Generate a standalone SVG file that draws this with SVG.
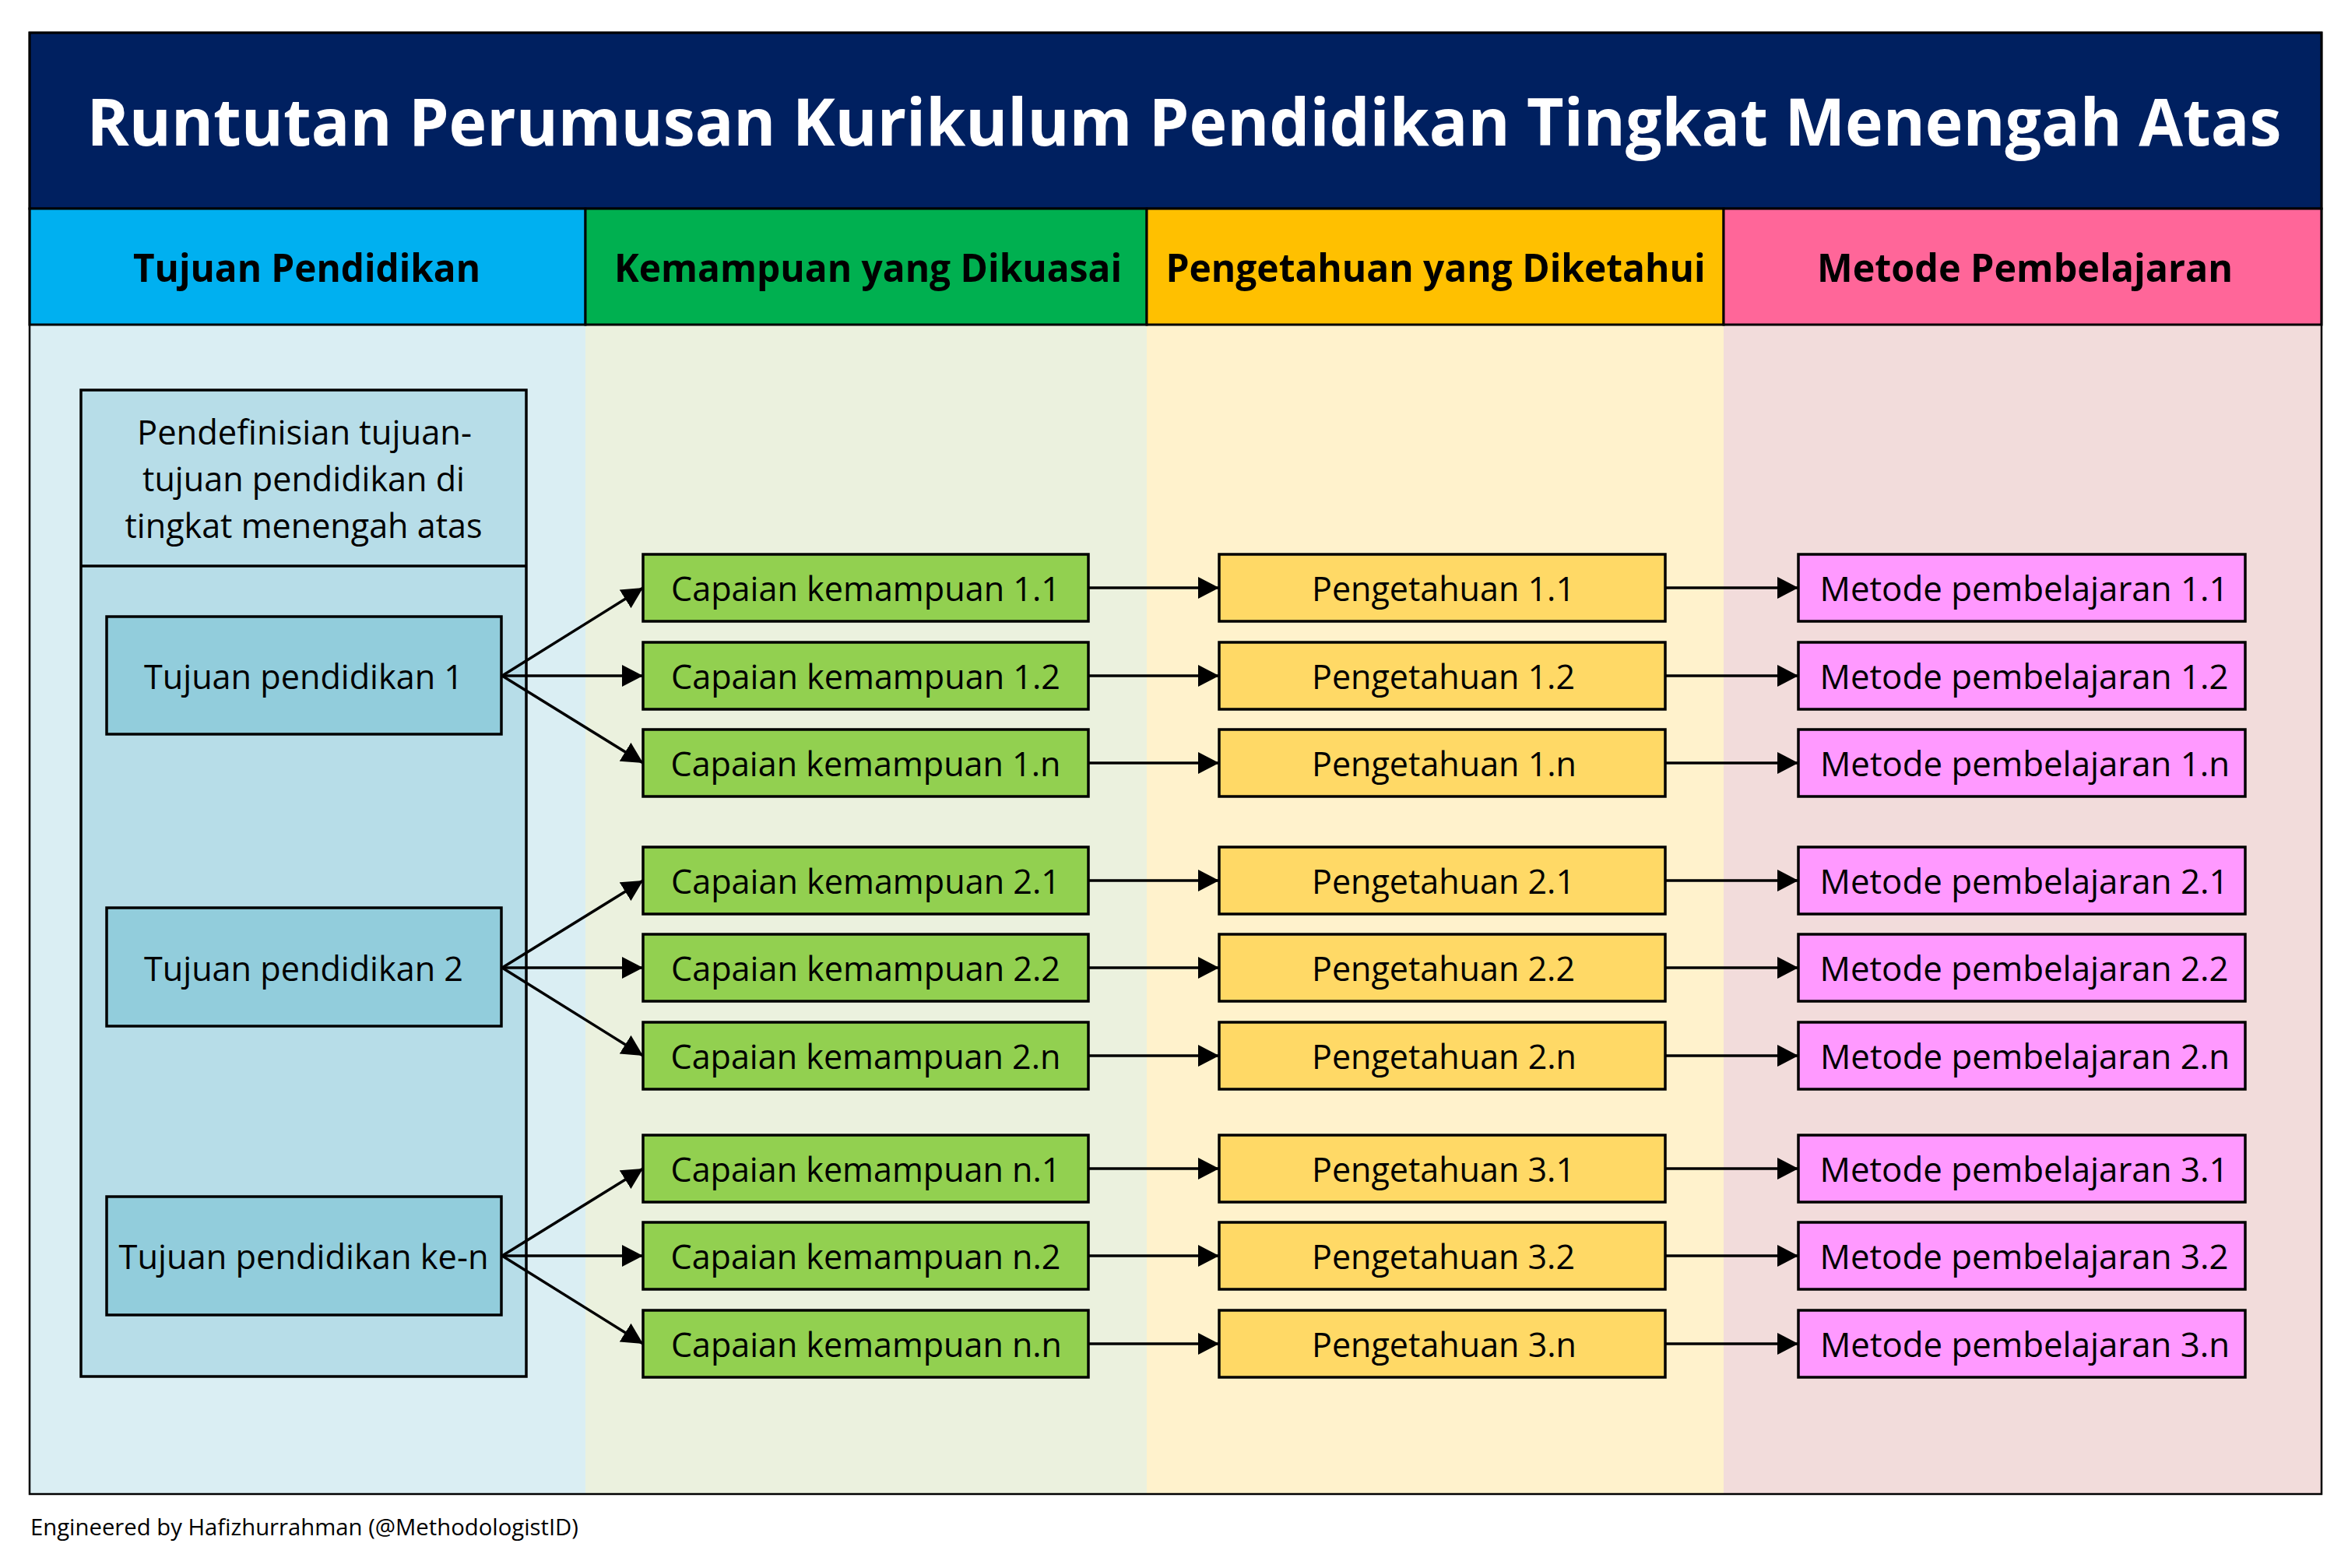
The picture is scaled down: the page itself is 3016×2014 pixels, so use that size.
<svg xmlns="http://www.w3.org/2000/svg" width="3016" height="2014" viewBox="0 0 3016 2014">
<style>
.t{font-family:"Open Sans","Noto Sans","Liberation Sans",sans-serif;fill:#000;}
.n{font-size:43px;text-anchor:middle;}
.h{font-size:50px;font-weight:bold;text-anchor:middle;}
.title{font-family:"Open Sans","Noto Sans","Liberation Sans",sans-serif;font-size:84px;font-weight:bold;fill:#fff;text-anchor:middle;}
.box{stroke:#000;stroke-width:3.5;}
.tj{fill:#92CDDC;}
.gr{fill:#92D050;}
.ye{fill:#FFD966;}
.pk{fill:#FF99FF;}
.conn line{stroke:#000;stroke-width:3.5;marker-end:url(#ah);}
</style>
<defs>
<marker id="ah" markerUnits="userSpaceOnUse" markerWidth="28" markerHeight="28" refX="27" refY="14" orient="auto" viewBox="0 0 28 28">
<path d="M0,0 L27,14 L0,28 Z" fill="#000"/>
</marker>
</defs>
<rect width="3016" height="2014" fill="#fff"/>
<g id="background">
<rect x="38" y="417" width="714" height="1502" fill="#DAEEF3"/>
<rect x="752" y="417" width="721" height="1502" fill="#EBF1DE"/>
<rect x="1473" y="417" width="741" height="1502" fill="#FFF2CC"/>
<rect x="2214" y="417" width="768" height="1502" fill="#F2DCDB"/>
</g>
<g id="title">
<rect x="38" y="42" width="2944" height="226" fill="#002060" stroke="#000" stroke-width="3"/>
<text class="title" x="1521" y="187" textLength="2819" lengthAdjust="spacingAndGlyphs">Runtutan Perumusan Kurikulum Pendidikan Tingkat Menengah Atas</text>
</g>
<g id="header-tujuan">
<rect x="38" y="268" width="714" height="149" fill="#00B0F0" stroke="#000" stroke-width="3"/>
<text class="t h" x="394" y="362" textLength="446" lengthAdjust="spacingAndGlyphs">Tujuan Pendidikan</text>
</g>
<g id="header-kemampuan">
<rect x="752" y="268" width="721" height="149" fill="#00B050" stroke="#000" stroke-width="3"/>
<text class="t h" x="1115" y="362" textLength="652" lengthAdjust="spacingAndGlyphs">Kemampuan yang Dikuasai</text>
</g>
<g id="header-pengetahuan">
<rect x="1473" y="268" width="741" height="149" fill="#FFC000" stroke="#000" stroke-width="3"/>
<text class="t h" x="1844" y="362" textLength="693" lengthAdjust="spacingAndGlyphs">Pengetahuan yang Diketahui</text>
</g>
<g id="header-metode">
<rect x="2214" y="268" width="768" height="149" fill="#FF6699" stroke="#000" stroke-width="3"/>
<text class="t h" x="2601" y="362" textLength="534" lengthAdjust="spacingAndGlyphs">Metode Pembelajaran</text>
</g>
<rect id="frame" x="38" y="42" width="2944" height="1877" fill="none" stroke="#000" stroke-width="2.5"/>
<g id="container">
<rect x="104" y="501" width="572" height="1267" fill="#B7DDE8" stroke="#000" stroke-width="3.5"/>
<line x1="104" y1="727" x2="676" y2="727" stroke="#000" stroke-width="3.5"/>
<text class="t n" x="391" y="571" textLength="430" lengthAdjust="spacingAndGlyphs">Pendefinisian tujuan-</text>
<text class="t n" x="390" y="631" textLength="414" lengthAdjust="spacingAndGlyphs">tujuan pendidikan di</text>
<text class="t n" x="390" y="691" textLength="459" lengthAdjust="spacingAndGlyphs">tingkat menengah atas</text>
</g>
<g id="tujuan-1"><rect class="box tj" x="137" y="792" width="507" height="151"/><text class="t n" x="390" y="885" textLength="410" lengthAdjust="spacingAndGlyphs">Tujuan pendidikan 1</text></g>
<g id="tujuan-2"><rect class="box tj" x="137" y="1166" width="507" height="152"/><text class="t n" x="390" y="1260" textLength="410" lengthAdjust="spacingAndGlyphs">Tujuan pendidikan 2</text></g>
<g id="tujuan-n"><rect class="box tj" x="137" y="1537" width="507" height="152"/><text class="t n" x="390" y="1630" textLength="475" lengthAdjust="spacingAndGlyphs">Tujuan pendidikan ke-n</text></g>

<g id="kemampuan-1-1"><rect class="box gr" x="826" y="712" width="572" height="86"/><text class="t n" x="1112" y="772" textLength="500" lengthAdjust="spacingAndGlyphs">Capaian kemampuan 1.1</text></g>
<g id="kemampuan-1-2"><rect class="box gr" x="826" y="825" width="572" height="86"/><text class="t n" x="1112" y="885" textLength="500" lengthAdjust="spacingAndGlyphs">Capaian kemampuan 1.2</text></g>
<g id="kemampuan-1-n"><rect class="box gr" x="826" y="937" width="572" height="86"/><text class="t n" x="1112" y="997" textLength="501" lengthAdjust="spacingAndGlyphs">Capaian kemampuan 1.n</text></g>
<g id="kemampuan-2-1"><rect class="box gr" x="826" y="1088" width="572" height="86"/><text class="t n" x="1112" y="1148" textLength="500" lengthAdjust="spacingAndGlyphs">Capaian kemampuan 2.1</text></g>
<g id="kemampuan-2-2"><rect class="box gr" x="826" y="1200" width="572" height="86"/><text class="t n" x="1112" y="1260" textLength="500" lengthAdjust="spacingAndGlyphs">Capaian kemampuan 2.2</text></g>
<g id="kemampuan-2-n"><rect class="box gr" x="826" y="1313" width="572" height="86"/><text class="t n" x="1112" y="1373" textLength="501" lengthAdjust="spacingAndGlyphs">Capaian kemampuan 2.n</text></g>
<g id="kemampuan-n-1"><rect class="box gr" x="826" y="1458" width="572" height="86"/><text class="t n" x="1112" y="1518" textLength="501" lengthAdjust="spacingAndGlyphs">Capaian kemampuan n.1</text></g>
<g id="kemampuan-n-2"><rect class="box gr" x="826" y="1570" width="572" height="86"/><text class="t n" x="1112" y="1630" textLength="501" lengthAdjust="spacingAndGlyphs">Capaian kemampuan n.2</text></g>
<g id="kemampuan-n-n"><rect class="box gr" x="826" y="1683" width="572" height="86"/><text class="t n" x="1113" y="1743" textLength="502" lengthAdjust="spacingAndGlyphs">Capaian kemampuan n.n</text></g>

<g id="pengetahuan-1-1"><rect class="box ye" x="1566" y="712" width="573" height="86"/><text class="t n" x="1854" y="772" textLength="338" lengthAdjust="spacingAndGlyphs">Pengetahuan 1.1</text></g>
<g id="pengetahuan-1-2"><rect class="box ye" x="1566" y="825" width="573" height="86"/><text class="t n" x="1854" y="885" textLength="338" lengthAdjust="spacingAndGlyphs">Pengetahuan 1.2</text></g>
<g id="pengetahuan-1-n"><rect class="box ye" x="1566" y="937" width="573" height="86"/><text class="t n" x="1855" y="997" textLength="340" lengthAdjust="spacingAndGlyphs">Pengetahuan 1.n</text></g>
<g id="pengetahuan-2-1"><rect class="box ye" x="1566" y="1088" width="573" height="86"/><text class="t n" x="1854" y="1148" textLength="338" lengthAdjust="spacingAndGlyphs">Pengetahuan 2.1</text></g>
<g id="pengetahuan-2-2"><rect class="box ye" x="1566" y="1200" width="573" height="86"/><text class="t n" x="1854" y="1260" textLength="338" lengthAdjust="spacingAndGlyphs">Pengetahuan 2.2</text></g>
<g id="pengetahuan-2-n"><rect class="box ye" x="1566" y="1313" width="573" height="86"/><text class="t n" x="1855" y="1373" textLength="340" lengthAdjust="spacingAndGlyphs">Pengetahuan 2.n</text></g>
<g id="pengetahuan-3-1"><rect class="box ye" x="1566" y="1458" width="573" height="86"/><text class="t n" x="1854" y="1518" textLength="338" lengthAdjust="spacingAndGlyphs">Pengetahuan 3.1</text></g>
<g id="pengetahuan-3-2"><rect class="box ye" x="1566" y="1570" width="573" height="86"/><text class="t n" x="1854" y="1630" textLength="338" lengthAdjust="spacingAndGlyphs">Pengetahuan 3.2</text></g>
<g id="pengetahuan-3-n"><rect class="box ye" x="1566" y="1683" width="573" height="86"/><text class="t n" x="1855" y="1743" textLength="340" lengthAdjust="spacingAndGlyphs">Pengetahuan 3.n</text></g>

<g id="metode-1-1"><rect class="box pk" x="2310" y="712" width="574" height="86"/><text class="t n" x="2600" y="772" textLength="525" lengthAdjust="spacingAndGlyphs">Metode pembelajaran 1.1</text></g>
<g id="metode-1-2"><rect class="box pk" x="2310" y="825" width="574" height="86"/><text class="t n" x="2600" y="885" textLength="525" lengthAdjust="spacingAndGlyphs">Metode pembelajaran 1.2</text></g>
<g id="metode-1-n"><rect class="box pk" x="2310" y="937" width="574" height="86"/><text class="t n" x="2601" y="997" textLength="526" lengthAdjust="spacingAndGlyphs">Metode pembelajaran 1.n</text></g>
<g id="metode-2-1"><rect class="box pk" x="2310" y="1088" width="574" height="86"/><text class="t n" x="2600" y="1148" textLength="525" lengthAdjust="spacingAndGlyphs">Metode pembelajaran 2.1</text></g>
<g id="metode-2-2"><rect class="box pk" x="2310" y="1200" width="574" height="86"/><text class="t n" x="2600" y="1260" textLength="525" lengthAdjust="spacingAndGlyphs">Metode pembelajaran 2.2</text></g>
<g id="metode-2-n"><rect class="box pk" x="2310" y="1313" width="574" height="86"/><text class="t n" x="2601" y="1373" textLength="526" lengthAdjust="spacingAndGlyphs">Metode pembelajaran 2.n</text></g>
<g id="metode-3-1"><rect class="box pk" x="2310" y="1458" width="574" height="86"/><text class="t n" x="2600" y="1518" textLength="525" lengthAdjust="spacingAndGlyphs">Metode pembelajaran 3.1</text></g>
<g id="metode-3-2"><rect class="box pk" x="2310" y="1570" width="574" height="86"/><text class="t n" x="2600" y="1630" textLength="525" lengthAdjust="spacingAndGlyphs">Metode pembelajaran 3.2</text></g>
<g id="metode-3-n"><rect class="box pk" x="2310" y="1683" width="574" height="86"/><text class="t n" x="2601" y="1743" textLength="526" lengthAdjust="spacingAndGlyphs">Metode pembelajaran 3.n</text></g>

<g id="connectors" class="conn">
<line x1="645" y1="868" x2="826" y2="755"/>
<line x1="645" y1="868" x2="826" y2="868"/>
<line x1="645" y1="868" x2="826" y2="980"/>
<line x1="645" y1="1243" x2="826" y2="1131"/>
<line x1="645" y1="1243" x2="826" y2="1243"/>
<line x1="645" y1="1243" x2="826" y2="1356"/>
<line x1="645" y1="1613" x2="826" y2="1501"/>
<line x1="645" y1="1613" x2="826" y2="1613"/>
<line x1="645" y1="1613" x2="826" y2="1726"/>

<line x1="1398" y1="755" x2="1566" y2="755"/>
<line x1="1398" y1="868" x2="1566" y2="868"/>
<line x1="1398" y1="980" x2="1566" y2="980"/>
<line x1="1398" y1="1131" x2="1566" y2="1131"/>
<line x1="1398" y1="1243" x2="1566" y2="1243"/>
<line x1="1398" y1="1356" x2="1566" y2="1356"/>
<line x1="1398" y1="1501" x2="1566" y2="1501"/>
<line x1="1398" y1="1613" x2="1566" y2="1613"/>
<line x1="1398" y1="1726" x2="1566" y2="1726"/>

<line x1="2139" y1="755" x2="2310" y2="755"/>
<line x1="2139" y1="868" x2="2310" y2="868"/>
<line x1="2139" y1="980" x2="2310" y2="980"/>
<line x1="2139" y1="1131" x2="2310" y2="1131"/>
<line x1="2139" y1="1243" x2="2310" y2="1243"/>
<line x1="2139" y1="1356" x2="2310" y2="1356"/>
<line x1="2139" y1="1501" x2="2310" y2="1501"/>
<line x1="2139" y1="1613" x2="2310" y2="1613"/>
<line x1="2139" y1="1726" x2="2310" y2="1726"/>
</g>
<text id="footer" class="t" x="39" y="1972" font-size="30" textLength="704" lengthAdjust="spacingAndGlyphs">Engineered by Hafizhurrahman (@MethodologistID)</text>
</svg>
